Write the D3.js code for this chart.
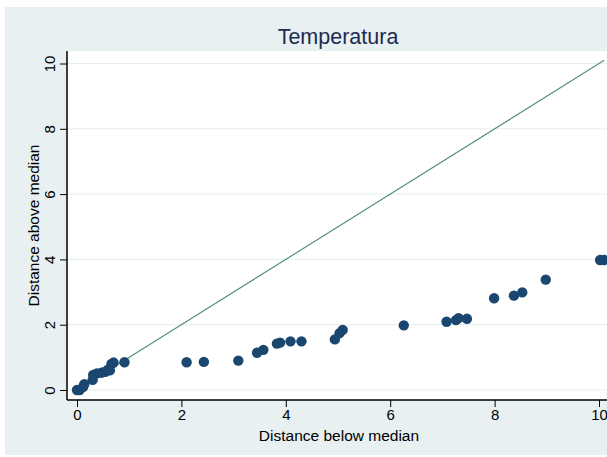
<!DOCTYPE html>
<html>
<head>
<meta charset="utf-8">
<script src="https://cdn.jsdelivr.net/npm/d3@7"></script>
<style>
  body { margin: 0; background: #fff; }
  text { font-family: "Liberation Sans", Arial, sans-serif; }
</style>
</head>
<body>
<div id="chart"></div>
<script>
// distance below / above median
const below = [0, 0.05, 0.12, 0.14, 0.3, 0.31, 0.38, 0.47, 0.54, 0.6, 0.63, 0.66, 0.7, 0.91,
  2.1, 2.43, 3.09, 3.45, 3.57, 3.83, 3.89, 4.09, 4.3, 4.94, 5.03, 5.09,
  6.26, 7.08, 7.26, 7.31, 7.47, 7.99, 8.37, 8.53, 8.98, 10.02, 10.1];
const above = [0, 0, 0.1, 0.18, 0.31, 0.46, 0.51, 0.53, 0.56, 0.63, 0.6, 0.8, 0.84, 0.85,
  0.85, 0.86, 0.9, 1.14, 1.23, 1.42, 1.45, 1.49, 1.49, 1.55, 1.74, 1.84,
  1.98, 2.09, 2.14, 2.2, 2.18, 2.81, 2.89, 2.99, 3.38, 3.98, 3.98];
const lineEnds = [0, 10.1];
const ticks = [0, 2, 4, 6, 8, 10];
const title = "Temperatura";
const xTitle = "Distance below median";
const yTitle = "Distance above median";

const W = 607, H = 457;
const plot = {left: 67, right: 607, top: 51, bottom: 400};

const svg = d3.select("#chart").append("svg")
  .attr("width", W)
  .attr("height", H);

svg.append("rect")
  .attr("x", 5).attr("y", 7)
  .attr("width", W - 5).attr("height", H - 9)
  .attr("fill", "#e8f0f2");

svg.append("rect")
  .attr("x", plot.left).attr("y", plot.top)
  .attr("width", plot.right - plot.left).attr("height", plot.bottom - plot.top)
  .attr("fill", "#fff");

const x = d3.scaleLinear().domain([0, 10]).range([77, 599]);
const y = d3.scaleLinear().domain([0, 10]).range([390, 63.5]);

// grid
svg.append("g").selectAll("line")
  .data(ticks)
  .enter().append("line")
    .attr("x1", plot.left).attr("x2", plot.right)
    .attr("y1", d => y(d)).attr("y2", d => y(d))
    .attr("stroke", "#e4edf0")
    .attr("stroke-width", 1);

// 45 degree reference line
svg.append("line")
  .attr("x1", x(lineEnds[0])).attr("y1", y(lineEnds[0]))
  .attr("x2", x(lineEnds[1])).attr("y2", y(lineEnds[1]))
  .attr("stroke", "#5a8f7e")
  .attr("stroke-width", 1.2);

svg.append("g").selectAll("circle")
  .data(below.map((b, i) => [b, above[i]]))
  .enter().append("circle")
    .attr("cx", d => x(d[0]))
    .attr("cy", d => y(d[1]))
    .attr("r", 5.2)
    .attr("fill", "#1a476f");

// axes
const xAxis = svg.append("g")
  .attr("transform", `translate(0,${plot.bottom})`)
  .call(d3.axisBottom(x).tickValues(ticks).tickSize(7).tickPadding(2));
const yAxis = svg.append("g")
  .attr("transform", `translate(${plot.left},0)`)
  .call(d3.axisLeft(y).tickValues(ticks).tickSize(7).tickPadding(3));

[xAxis, yAxis].forEach(a => {
  a.select(".domain").remove();
  a.selectAll("line").attr("stroke", "#000");
  a.selectAll("text")
    .attr("fill", "#000")
    .style("font-size", "15px")
    .style("font-family", '"Liberation Sans", Arial, sans-serif');
});

yAxis.selectAll("text")
  .attr("text-anchor", "middle")
  .attr("x", null).attr("dy", null)
  .attr("transform", "translate(-12,0) rotate(-90)");

svg.append("line")
  .attr("x1", plot.left).attr("x2", plot.right)
  .attr("y1", plot.bottom).attr("y2", plot.bottom)
  .attr("stroke", "#000").attr("stroke-width", 1.5);
svg.append("line")
  .attr("x1", plot.left).attr("x2", plot.left)
  .attr("y1", plot.top).attr("y2", plot.bottom)
  .attr("stroke", "#000").attr("stroke-width", 1.5);

svg.append("text")
  .attr("x", 338).attr("y", 44)
  .attr("text-anchor", "middle")
  .attr("fill", "#1e2b4f")
  .style("font-size", "21.5px")
  .text(title);

svg.append("text")
  .attr("x", 339).attr("y", 441)
  .attr("text-anchor", "middle")
  .attr("fill", "#000")
  .style("font-size", "15.5px")
  .text(xTitle);

svg.append("text")
  .attr("transform", `translate(39,${(plot.top + plot.bottom) / 2}) rotate(-90)`)
  .attr("text-anchor", "middle")
  .attr("fill", "#000")
  .style("font-size", "15.5px")
  .text(yTitle);
</script>
</body>
</html>
